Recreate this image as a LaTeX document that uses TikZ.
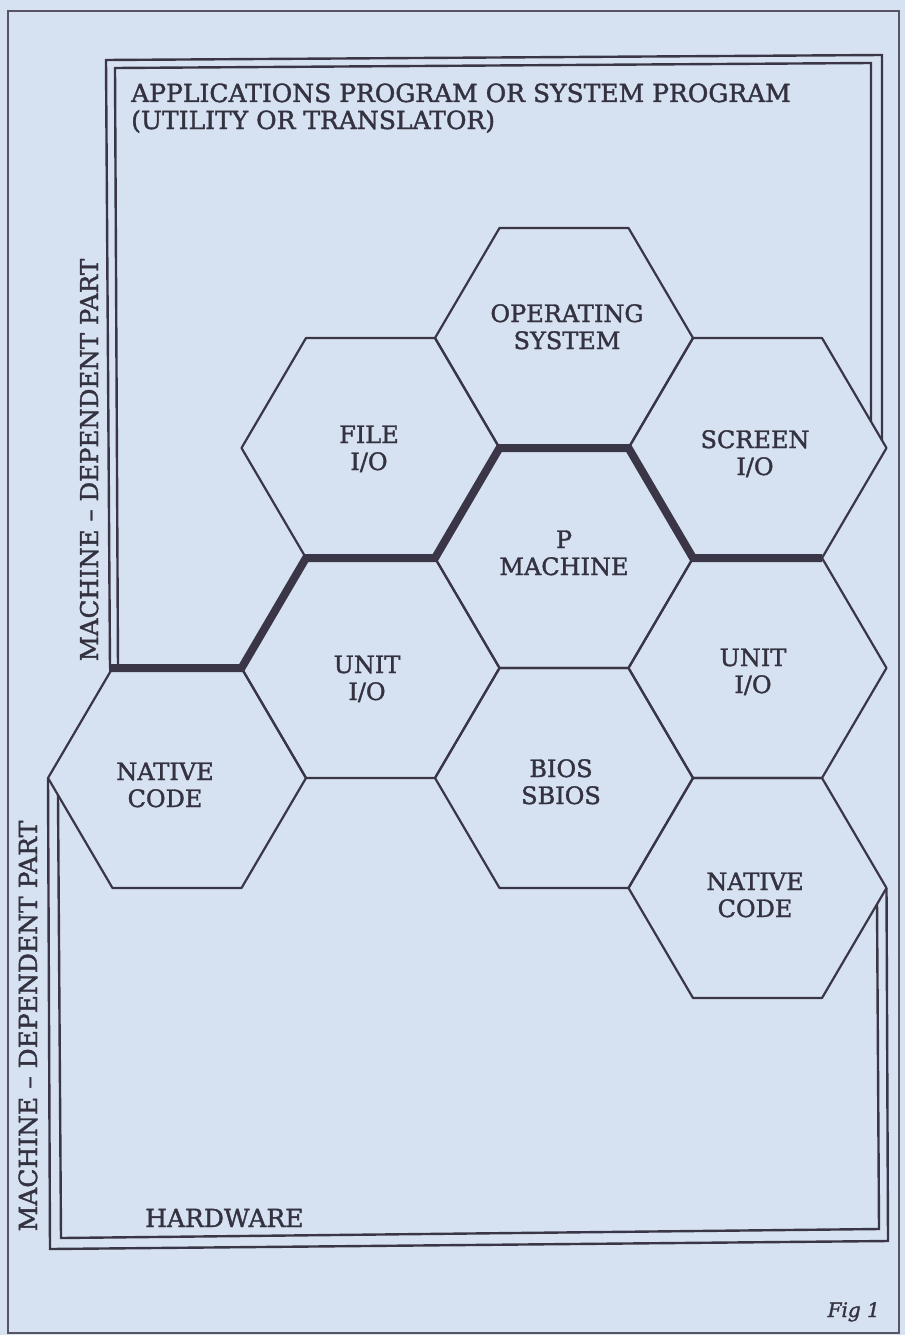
\documentclass[tikz,border=0pt]{standalone}
\usepackage{fontspec}
\setmainfont{DejaVu Serif}[FakeBold=1.5]
\usetikzlibrary{calc}
\definecolor{paper}{RGB}{214,226,241}
\definecolor{ink}{RGB}{58,54,72}
\definecolor{textink}{RGB}{52,50,64}
\tikzset{
  hexline/.style={draw=ink, line width=2.2pt, line join=round},
  framel/.style={draw=ink, line width=2.4pt, line join=miter},
  sepline/.style={draw=ink, line width=8pt, line join=miter, line cap=butt},
  pageframe/.style={draw=ink!85, line width=1.4pt},
  lbl/.style={text=textink, font=\fontsize{24}{27}\selectfont, inner sep=0pt, anchor=base},
  bigtxt/.style={text=textink, font=\fontsize{25}{27}\selectfont, inner sep=0pt},
}
\newcommand\hexcell[3]{%
  \coordinate (#1-l)  at ({#2-129},#3);
  \coordinate (#1-tl) at ({#2-64.5},{#3-110});
  \coordinate (#1-tr) at ({#2+64.5},{#3-110});
  \coordinate (#1-r)  at ({#2+129},#3);
  \coordinate (#1-br) at ({#2+64.5},{#3+110});
  \coordinate (#1-bl) at ({#2-64.5},{#3+110});
  \draw[hexline] (#1-l) -- (#1-tl) -- (#1-tr) -- (#1-r) -- (#1-br) -- (#1-bl) -- cycle;
}
\newcommand\hexlabel[5]{%
  \node[lbl] (#1-t1) at (#2,#3) {#4};
  \node[lbl] (#1-t2) at (#2,{#3+27}) {#5};
}
\begin{document}
\begin{tikzpicture}[x=1pt,y=-1pt]
  \fill[paper] (0,0) rectangle (905,1335);
  \useasboundingbox (0,0) rectangle (905,1335);
  % page frame
  \draw[pageframe] (8,11) rectangle (899,1333);

  % hexagons
  \hexcell{OS}{564}{338}
  \hexcell{FI}{370.5}{448}
  \hexcell{SC}{757.5}{448}
  \hexcell{PM}{564}{558}
  \hexcell{UL}{370.5}{668}
  \hexcell{UR}{757.5}{668}
  \hexcell{BI}{564}{778}
  \hexcell{NL}{177}{778}
  \hexcell{NR}{757.5}{888}

  \hexlabel{OS}{567}{322}{OPERATING}{SYSTEM}
  \hexlabel{FI}{369}{443}{FILE}{I/O}
  \hexlabel{SC}{755}{448}{SCREEN}{I/O}
  \hexlabel{PM}{564}{548}{P}{MACHINE}
  \hexlabel{UL}{367}{673}{UNIT}{I/O}
  \hexlabel{UR}{753}{666}{UNIT}{I/O}
  \hexlabel{BI}{561}{777}{BIOS}{SBIOS}
  \hexlabel{NL}{165}{780}{NATIVE}{CODE}
  \hexlabel{NR}{755}{890}{NATIVE}{CODE}

  % upper frame (applications)
  \coordinate (uo1) at (110,668);
  \coordinate (uo2) at (106,60);
  \coordinate (uo3) at (882,55);
  \coordinate (uo4) at ($(SC-tr)!0.930!(SC-r)$);
  \draw[framel] (uo1) -- (uo2) -- (uo3) -- (uo4);
  \coordinate (ui1) at (118,668);
  \coordinate (ui2) at (115,68);
  \coordinate (ui3) at (871,63);
  \coordinate (ui4) at ($(SC-tr)!0.760!(SC-r)$);
  \draw[framel] (ui1) -- (ui2) -- (ui3) -- (ui4);

  % lower frame (hardware)
  \coordinate (lo2) at (50,1249);
  \coordinate (lo3) at (888,1241);
  \draw[framel] (NL-l) -- (lo2) -- (lo3) -- (NR-r);
  \coordinate (li1) at ($(NL-l)!0.155!(NL-bl)$);
  \coordinate (li2) at (61,1238);
  \coordinate (li3) at (879,1229);
  \coordinate (li4) at ($(NR-r)!0.147!(NR-br)$);
  \draw[framel] (li1) -- (li2) -- (li3) -- (li4);

  % separator
  \coordinate (sepstart) at (109,668);
  \draw[sepline] (sepstart) -- (NL-tr) -- (UL-tl) -- (UL-tr) -- (PM-tl) -- (PM-tr) -- (PM-r) -- (UR-tr);

  % texts
  \node[bigtxt, anchor=base west] (app1) at (131,102) {APPLICATIONS PROGRAM OR SYSTEM PROGRAM};
  \node[bigtxt, anchor=base west] (app2) at (131,129) {(UTILITY OR TRANSLATOR)};
  \node[bigtxt, anchor=base west] (hw) at (145,1227) {HARDWARE};
  \node[bigtxt, font=\fontsize{24.5}{27}\selectfont, rotate=90, anchor=base] (mdp1) at (98,460) {MACHINE -- DEPENDENT PART};
  \node[bigtxt, rotate=90, anchor=base] (mdp2) at (37,1026) {MACHINE -- DEPENDENT PART};
  \node[text=textink, inner sep=0pt, anchor=base east, font=\fontsize{20}{24}\selectfont\itshape] (fig) at (880,1317) {Fig 1};
\end{tikzpicture}
\end{document}
